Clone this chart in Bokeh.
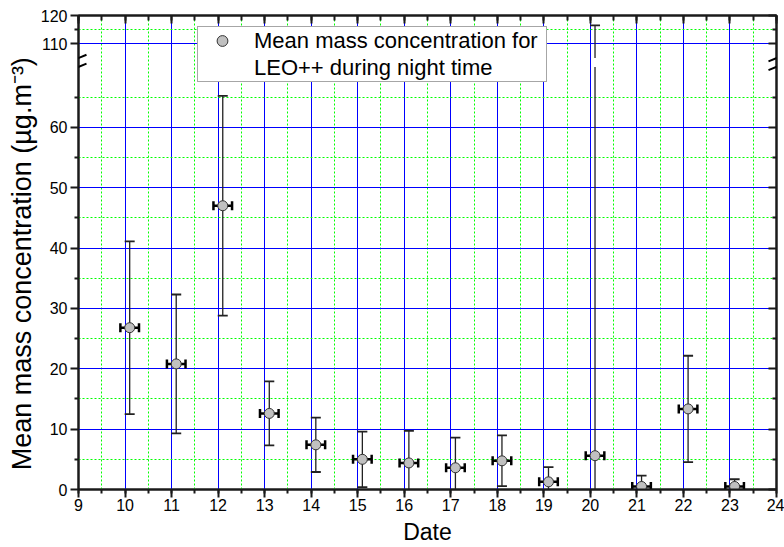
import numpy as np
from bokeh.plotting import figure
from bokeh.models import (Range1d, LinearAxis, FixedTicker, SingleIntervalTicker, Legend,
                          LegendItem, ColumnDataSource, Arrow, CustomJSTickFormatter,
                          CustomLabelingPolicy)
from bokeh.embed import file_html
from bokeh.resources import INLINE

# ---------------- data ----------------
dates = [10.1, 11.1, 12.1, 13.1, 14.1, 15.1, 16.1, 17.1, 18.1, 19.1, 20.1, 21.1, 22.1, 23.1]
means = [26.8, 20.8, 47.0, 12.6, 7.4, 5.0, 4.4, 3.6, 4.75, 1.27, 5.6, 0.5, 13.35, 0.5]
sds = [14.3, 11.5, 18.2, 5.3, 4.5, 4.6, 5.3, 5.0, 4.2, 2.45, 110.9, 1.8, 8.8, 1.2]
x_err = [0.2] * 14

x_major_interval = 1
y_ticks_low = [0, 10, 20, 30, 40, 50, 60]
y_minor_low = [5, 15, 25, 35, 45, 55, 65]
y_ticks_high = [110, 120]
y_minor_high = [115]

x_title = "Date"
y_title = "Mean mass concentration (\u00b5g.m\u207b\u00b3)"
legend_lines = ["Mean mass concentration for", "LEO++ during night time"]

# broken axis definition
BREAK_LOW = 70.0     # top of lower segment
BREAK_HIGH = 105.0   # bottom of upper segment
Y_TOP = 120.0
GAP = 1.46           # gap between segments (lower-segment units)
RATIO = 0.47         # upper segment scale relative to lower segment
X0, X1 = 9, 24

FONT = "Liberation Sans"
W, H = 784, 547
B_LEFT, B_TOP, B_RIGHT, B_BOTTOM = 78, 15, 8, 58

x = np.array(dates)
m = np.array(means)
s = np.array(sds)
xe = np.array(x_err)
lo = m - s
hi = m + s

main_top = BREAK_LOW + GAP + (Y_TOP - BREAK_HIGH) * RATIO
upper_start = BREAK_HIGH - (BREAK_LOW + GAP) / RATIO


def to_main(v):
    return BREAK_LOW + GAP + (v - BREAK_HIGH) * RATIO


fw = W - B_LEFT - B_RIGHT
fh = H - B_TOP - B_BOTTOM
px_x = (X1 - X0) / fw
px_y = main_top / fh

p = figure(width=W, height=H, x_range=Range1d(X0, X1), y_range=Range1d(0, main_top),
           output_backend="svg", toolbar_location=None,
           min_border_left=B_LEFT, min_border_top=B_TOP, min_border_right=B_RIGHT,
           min_border_bottom=B_BOTTOM)
p.extra_y_ranges = {"upper": Range1d(upper_start, Y_TOP)}

p.outline_line_color = "#1a1a1a"
p.outline_line_width = 2
p.background_fill_color = "white"

xt = SingleIntervalTicker(interval=x_major_interval, num_minor_ticks=2)
yt = FixedTicker(ticks=y_ticks_low + [to_main(v) for v in y_ticks_high],
                 minor_ticks=y_minor_low + [to_main(v) for v in y_minor_high])
yfmt = CustomJSTickFormatter(args=dict(bl=BREAK_LOW, bh=BREAK_HIGH, gap=GAP, r=RATIO), code="""
    if (tick > bl + gap / 2) { return String(Math.round(bh + (tick - bl - gap) / r)); }
    return String(Math.round(tick));
""")

for ax in p.xaxis:
    ax.ticker = xt
for ax in p.yaxis:
    ax.ticker = yt
    ax.formatter = yfmt

axis_common = dict(axis_line_width=2, axis_line_color="#1a1a1a",
                   major_tick_line_width=2, major_tick_line_color="#1a1a1a",
                   minor_tick_line_width=2, minor_tick_line_color="#1a1a1a")

xa = p.xaxis[0]
xa.update(**axis_common)
xa.major_tick_out = 8
xa.major_tick_in = 0
xa.minor_tick_out = 4
xa.minor_tick_in = 0
xa.major_label_standoff = 1
xa.major_label_text_font = FONT
xa.major_label_text_font_size = "16px"
xa.major_label_text_color = "black"
xa.axis_label = x_title
xa.axis_label_text_font = FONT
xa.axis_label_text_font_size = "23px"
xa.axis_label_text_font_style = "normal"
xa.axis_label_text_color = "black"
xa.axis_label_standoff = 5

ya = p.yaxis[0]
ya.update(**axis_common)
ya.major_tick_out = 8
ya.major_tick_in = 0
ya.minor_tick_out = 4
ya.minor_tick_in = 0
ya.major_label_standoff = 3
ya.major_label_text_font = FONT
ya.major_label_text_font_size = "16px"
ya.major_label_text_color = "black"
# trailing no-break spaces nudge the title's centre towards the bottom, as in the reference
ya.axis_label = y_title + "\u00a0\u00a0\u00a0"
ya.axis_label_text_font = FONT
ya.axis_label_text_font_size = "27px"
ya.axis_label_text_font_style = "normal"
ya.axis_label_text_color = "black"
ya.axis_label_standoff = 1

top_axis = LinearAxis(ticker=xt, major_label_text_font_size="1px", major_label_standoff=0,
                      major_label_policy=CustomLabelingPolicy(code="return new Set()"),
                      major_tick_in=8, major_tick_out=0, minor_tick_in=5, minor_tick_out=0,
                      **axis_common)
right_axis = LinearAxis(ticker=yt, major_label_text_font_size="1px", major_label_standoff=0,
                        major_label_policy=CustomLabelingPolicy(code="return new Set()"),
                        major_tick_in=8, major_tick_out=0, minor_tick_in=4, minor_tick_out=0,
                        **axis_common)
p.add_layout(top_axis, "above")
p.add_layout(right_axis, "right")

for g in (p.xgrid[0], p.ygrid[0]):
    g.grid_line_color = "#0000ff"
    g.grid_line_width = 1
    g.minor_grid_line_color = "#00ff00"
    g.minor_grid_line_width = 1
    g.minor_grid_line_dash = "2 2"

# ---------------- lower segment ----------------
src = ColumnDataSource(dict(x=x, m=m, lo=lo, hi_c=np.minimum(hi, BREAK_LOW),
                            xl=x - xe, xr=x + xe))
p.segment(x0="x", y0="lo", x1="x", y1="hi_c", source=src, line_color="#222222", line_width=1.3)

cap_hi = hi <= BREAK_LOW
p.scatter(x[cap_hi], hi[cap_hi], marker="dash", size=10, line_color="#222222", line_width=1.8)
cap_lo = lo >= 0
p.scatter(x[cap_lo], lo[cap_lo], marker="dash", size=10, line_color="#222222", line_width=1.8)

# ---------------- upper segment ----------------
up = hi > BREAK_HIGH
p.segment(x0=x[up], y0=np.maximum(lo[up], BREAK_HIGH), x1=x[up], y1=hi[up],
          line_color="#222222", line_width=1.3, y_range_name="upper")
p.scatter(x[up], hi[up], marker="dash", size=10, line_color="#222222", line_width=1.8,
          y_range_name="upper")

# horizontal error bars
p.segment(x0="xl", y0="m", x1="xr", y1="m", source=src, line_color="black", line_width=2.5)
p.scatter(np.concatenate([x - xe, x + xe]), np.concatenate([m, m]), marker="dash",
          angle=np.pi / 2, size=9, line_color="black", line_width=2.5)

pts = p.scatter("x", "m", source=src, marker="circle", size=10, fill_color="#c0c0c0",
                line_color="#333333", line_width=1)

# axis-break marks
dx, dy = 8 * px_x, 3.3 * px_y
for xb in (X0, X1):
    for yb in (BREAK_LOW, BREAK_LOW + GAP):
        p.add_layout(Arrow(x_start=xb - dx, y_start=yb - dy, x_end=xb + dx, y_end=yb + dy,
                           start=None, end=None, line_color="black", line_width=2))

legend = Legend(items=[LegendItem(label=legend_lines[0], renderers=[pts]),
                       LegendItem(label=legend_lines[1], renderers=[])],
                location=(119, 407), orientation="vertical",
                border_line_color="#4d4d4d", border_line_width=1.5,
                background_fill_color="white", background_fill_alpha=1.0,
                label_text_font=FONT, label_text_font_size="22px", label_text_color="black",
                padding=0, spacing=0, margin=0, glyph_width=48, glyph_height=27,
                label_height=27, label_standoff=8, label_width=292)
p.add_layout(legend, "center")

open("out.html", "w").write(file_html(p, INLINE))
